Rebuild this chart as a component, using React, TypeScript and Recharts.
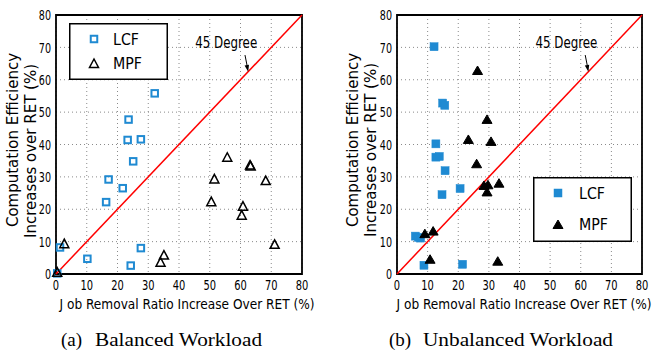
import React from "react";
import {
  ScatterChart,
  Scatter,
  XAxis,
  YAxis,
  CartesianGrid,
  ReferenceLine,
  ReferenceArea,
  ReferenceDot,
  Legend,
} from "recharts";

const axisTicks = [0, 10, 20, 30, 40, 50, 60, 70, 80];

// (a) balanced workload
const balancedLcfX = [0.4, 1.3, 10.2, 16.3, 17.1, 21.7, 23.3, 23.6, 25.1, 27.6, 24.3, 27.6, 32.1];
const balancedLcfY = [0.2, 8.2, 4.7, 22.2, 29.2, 26.5, 41.4, 47.7, 34.8, 41.6, 2.6, 8.0, 55.8];
const balancedMpfX = [0.4, 2.7, 34.0, 35.1, 50.5, 51.5, 55.7, 60.8, 60.4, 63.1, 63.3, 68.2, 71.1];
const balancedMpfY = [0.4, 9.2, 3.5, 5.7, 22.2, 29.2, 35.9, 20.8, 18.0, 33.5, 33.2, 28.7, 9.0];

// (b) unbalanced workload
const unbalancedLcfX = [12.1, 14.9, 15.6, 12.7, 12.7, 13.8, 15.7, 14.7, 20.6, 6.0, 7.0, 7.7, 8.8, 21.4];
const unbalancedLcfY = [70.2, 52.8, 52.1, 40.2, 36.1, 36.3, 31.9, 24.5, 26.4, 11.7, 11.3, 11.1, 2.7, 3.0];
const unbalancedMpfX = [26.3, 29.4, 23.3, 30.7, 26.0, 28.4, 29.7, 29.4, 33.3, 9.1, 11.8, 10.8, 32.9];
const unbalancedMpfY = [62.7, 47.6, 41.4, 40.8, 33.9, 27.2, 27.4, 25.2, 27.9, 12.3, 13.1, 4.4, 3.8];

const BLUE = "#1f8ad2";
const SANS = "'DejaVu Sans', sans-serif";
const SERIF = "'Liberation Serif', serif";

const zip = (xs: number[], ys: number[]) => xs.map((x, i) => ({ x, y: ys[i] }));

// the figure's sans text is squeezed sideways, so fit each string to its width
const Squeezed = ({ w, size = 14.5, children, ...rest }: any) => (
  <text
    fontFamily={SANS}
    fontSize={size}
    fill="#000"
    textLength={w}
    lengthAdjust="spacingAndGlyphs"
    {...rest}
  >
    {children}
  </text>
);

const XTick = ({ x, y, payload }: any) => {
  const s = String(payload.value);
  return (
    <Squeezed x={x} y={y} dy="0.71em" textAnchor="middle" w={s.length * 6.3}>
      {s}
    </Squeezed>
  );
};

const YTick = ({ x, y, payload }: any) => {
  const s = String(payload.value);
  return (
    <Squeezed x={x} y={y} dy="0.36em" textAnchor="end" w={s.length * 6.1}>
      {s}
    </Squeezed>
  );
};

const Square = ({ cx, cy, filled }: any) => {
  const s = filled ? 8 : 6.5;
  return (
    <rect
      x={cx - s / 2}
      y={cy - s / 2}
      width={s}
      height={s}
      fill={filled ? BLUE : "none"}
      stroke={BLUE}
      strokeWidth={filled ? 0.5 : 2}
    />
  );
};

const Triangle = ({ cx, cy, filled }: any) => {
  const w = filled ? 5 : 4.5;
  const pts = `${cx},${cy - 5} ${cx - w},${cy + 3.5} ${cx + w},${cy + 3.5}`;
  return (
    <polygon
      points={pts}
      fill={filled ? "#000" : "none"}
      stroke="#000"
      strokeWidth={filled ? 1 : 1.5}
    />
  );
};

const DegreeNote = ({ cx, cy }: any) => (
  <g>
    <Squeezed x={cx - 22} y={cy - 24} textAnchor="middle" size={15} w={62}>
      45 Degree
    </Squeezed>
    <line x1={cx - 3.2} y1={cy - 16.6} x2={cx - 0.9} y2={cy - 5} stroke="#000" strokeWidth={1} />
    <polygon points={`${cx},${cy} ${cx - 3.6},${cy - 6.2} ${cx + 0.8},${cy - 7}`} fill="#000" />
  </g>
);

const YTitle = ({ x1, x2, c1, c2 }: any) => (
  <g fontFamily={SANS} fontSize={15} fill="#000">
    <text x={x1} y={c1} transform={`rotate(-90 ${x1} ${c1})`} textAnchor="middle">
      Computation Efficiency
    </text>
    <text x={x2} y={c2} transform={`rotate(-90 ${x2} ${c2})`} textAnchor="middle">
      Increases over RET (%)
    </text>
  </g>
);

const XTitle = ({ cx, tagX, capX, capW, tag, caption }: any) => (
  <g>
    <Squeezed x={cx} y={309} textAnchor="middle" w={255}>
      J ob Removal Ratio Increase Over RET (%)
    </Squeezed>
    <text x={tagX} y={346} fontFamily={SERIF} fontSize={19} fill="#000">
      {tag}
    </text>
    <text
      x={capX}
      y={346}
      fontFamily={SERIF}
      fontSize={19}
      fill="#000"
      textLength={capW}
      lengthAdjust="spacingAndGlyphs"
    >
      {caption}
    </text>
  </g>
);

const LegendBox = ({ filled, height, rows }: any) => (
  <svg width={99} height={height} style={{ display: "block" }}>
    <rect x={0.75} y={0.75} width={97.5} height={height - 1.5} fill="#fff" stroke="#000" strokeWidth={1.5} />
    <Square cx={25} cy={rows[0]} filled={filled} />
    <Triangle cx={25} cy={rows[1] + 1} filled={filled} />
    <Squeezed x={filled ? 46 : 44} y={rows[0]} dy="0.36em" size={16.5} w={26}>
      LCF
    </Squeezed>
    <Squeezed x={filled ? 46 : 44} y={rows[1]} dy="0.36em" size={16.5} w={29}>
      MPF
    </Squeezed>
  </svg>
);

function Panel(props: any) {
  const { width, yWidth, right, lcf, mpf, filled, legend, yTitle, xTitle } = props;
  return (
    <ScatterChart width={width} height={351} margin={{ top: 15, right, bottom: 0, left: 0 }}>
      <CartesianGrid stroke="#8a8a8a" strokeDasharray="1 3" />
      <XAxis
        type="number"
        dataKey="x"
        domain={[0, 80]}
        ticks={axisTicks}
        height={77}
        axisLine={false}
        tickLine={false}
        tickSize={0}
        tickMargin={6}
        tick={<XTick />}
        label={<XTitle {...xTitle} />}
      />
      <YAxis
        type="number"
        dataKey="y"
        domain={[0, 80]}
        ticks={axisTicks}
        width={yWidth}
        axisLine={false}
        tickLine={false}
        tickSize={0}
        tickMargin={5}
        tick={<YTick />}
        label={<YTitle {...yTitle} />}
      />
      <ReferenceLine
        segment={[{ x: 0, y: 0 }, { x: 80, y: 80 }]}
        stroke="#ff0000"
        strokeWidth={1.5}
      />
      <ReferenceDot x={62.5} y={62.5} r={0} shape={(p: any) => <DegreeNote {...p} />} />
      <Scatter
        name="LCF"
        data={lcf}
        isAnimationActive={false}
        shape={(p: any) => <Square {...p} filled={filled} />}
      />
      <Scatter
        name="MPF"
        data={mpf}
        isAnimationActive={false}
        shape={(p: any) => <Triangle {...p} filled={filled} />}
      />
      <ReferenceArea x1={0} x2={80} y1={0} y2={80} fill="none" stroke="#000" strokeWidth={1.8} />
      <Legend
        layout="vertical"
        align="center"
        verticalAlign="middle"
        wrapperStyle={{ left: legend.left, top: legend.top, width: 99 }}
        content={() => <LegendBox filled={filled} height={legend.height} rows={legend.rows} />}
      />
    </ScatterChart>
  );
}

export default function App() {
  return (
    <div style={{ position: "absolute", left: 0, top: 0, width: 656, height: 351, background: "#fff" }}>
      <div style={{ position: "absolute", left: 0, top: 0 }}>
        <Panel
          width={330}
          yWidth={56}
          right={28}
          lcf={zip(balancedLcfX, balancedLcfY)}
          mpf={zip(balancedMpfX, balancedMpfY)}
          filled={false}
          legend={{ left: 69, top: 23, height: 57, rows: [16, 40] }}
          yTitle={{ x1: 18, x2: 36, c1: 140, c2: 151 }}
          xTitle={{ cx: 187, tagX: 61, capX: 95, capW: 167, tag: "(a)", caption: "Balanced Workload" }}
        />
      </div>
      <div style={{ position: "absolute", left: 330, top: 0 }}>
        <Panel
          width={326}
          yWidth={67}
          right={14}
          lcf={zip(unbalancedLcfX, unbalancedLcfY)}
          mpf={zip(unbalancedMpfX, unbalancedMpfY)}
          filled={true}
          legend={{ left: 203, top: 177, height: 65, rows: [16, 47] }}
          yTitle={{ x1: 28, x2: 46, c1: 140, c2: 150 }}
          xTitle={{ cx: 194, tagX: 59, capX: 93, capW: 190, tag: "(b)", caption: "Unbalanced Workload" }}
        />
      </div>
    </div>
  );
}
